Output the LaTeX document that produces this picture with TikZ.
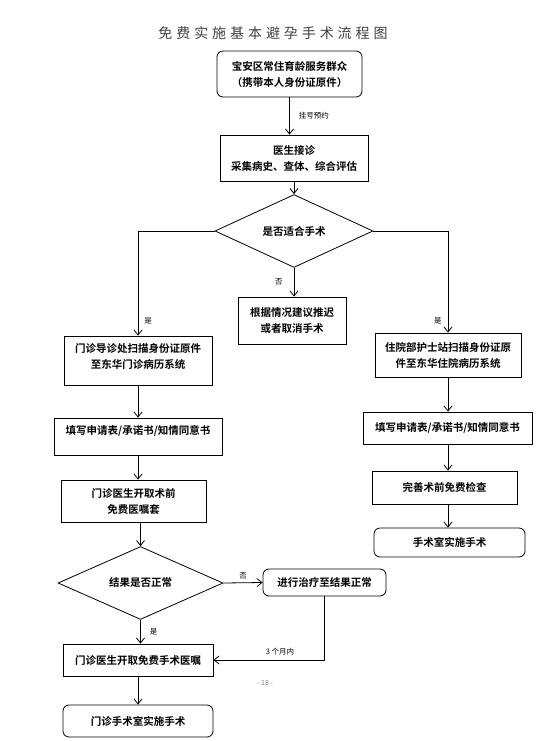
\documentclass[tikz,border=0pt]{standalone}
\usepackage{fontspec}
\setmainfont{Noto Sans CJK SC}[BoldFont={Noto Sans CJK SC Bold}]
\newfontfamily\titlefont[LetterSpace=28]{Noto Sans CJK SC}
\usepackage{xcolor}
\usetikzlibrary{shapes.geometric, arrows.meta}

\begin{document}
\begin{tikzpicture}[
    x=1pt, y=-1pt,
    box/.style={rectangle, draw, line width=0.8pt, align=center, inner sep=2pt, font=\fontsize{10.5}{16}\selectfont\bfseries},
    rbox/.style={box, rounded corners=6pt},
    decision/.style={diamond, draw, line width=0.8pt, inner sep=0pt, font=\fontsize{10.5}{16}\selectfont\bfseries},
    flow/.style={-{Straight Barb[length=5pt,width=8pt]}, line width=0.8pt},
    tag/.style={font=\fontsize{7.5}{9}\selectfont, inner sep=1pt}
]
\useasboundingbox (0,0) rectangle (555,741);

% Title
\node[font=\fontsize{14}{16}\selectfont, text=black!75] (title) at (273,33) {\titlefont 免费实施基本避孕手术流程图};

% Registration and consultation
\node[rbox, minimum width=145, minimum height=46] (start) at (289.5,74) {宝安区常住育龄服务群众\\（携带本人身份证原件）};
\node[box, minimum width=148, minimum height=46] (doctor) at (294,158) {医生接诊\\采集病史、查体、综合评估};
\node[decision, minimum width=158, minimum height=64] (fit) at (294,231) {是否适合手术};

% Three branches
\node[box, minimum width=108, minimum height=47] (delay) at (292,320.5) {根据情况建议推迟\\或者取消手术};
\node[box, minimum width=148, minimum height=49, text depth=9pt] (lscan) at (138,360.5) {门诊导诊处扫描身份证原件\\至东华门诊病历系统};
\node[box, minimum width=146, minimum height=44] (rscan) at (448,355) {住院部护士站扫描身份证原\\件至东华住院病历系统};

% Outpatient column
\node[box, minimum width=168, minimum height=37, text depth=13pt] (lform) at (138,436.5) {填写申请表/承诺书/知情同意书};
\node[box, minimum width=145, minimum height=42] (lorder) at (133.5,501) {门诊医生开取术前\\免费医嘱套};
\node[decision, minimum width=165, minimum height=58] (normal) at (140.5,583) {结果是否正常};
\node[rbox, minimum width=123, minimum height=27] (treat) at (324.5,582.5) {进行治疗至结果正常};
\node[box, minimum width=150, minimum height=32] (lpresc) at (138,660) {门诊医生开取免费手术医嘱};
\node[rbox, minimum width=150, minimum height=32] (lsurg) at (138,721) {门诊手术室实施手术};

% Inpatient column
\node[box, minimum width=169, minimum height=32] (rform) at (447.5,428) {填写申请表/承诺书/知情同意书};
\node[box, minimum width=145, minimum height=33] (rcheck) at (444.5,487.5) {完善术前免费检查};
\node[rbox, minimum width=151, minimum height=29] (rsurg) at (449.5,542.5) {手术室实施手术};

% Page number
\node[font=\fontsize{7}{8}\selectfont, text=black!50] (page) at (265,683) {- 18 -};

% Arrows
\draw[flow] (start.south) -- (start.south |- doctor.north) node[tag, midway, right=8pt] {挂号预约};
\draw[flow] (doctor.south) -- (fit.north);
\draw[flow] (fit.west) -| (lscan.north) node[tag, pos=0.93, right=5pt] {是};
\draw[flow] (fit.east) -| (rscan.north) node[tag, pos=0.94, left=5pt] {是};
\draw[flow] (fit.south) -- (fit.south |- delay.north) node[tag, midway, left=10pt] {否};
\draw[flow] (lscan.south) -- (lform.north);
\draw[flow] (lform.south) -- (lform.south |- lorder.north);
\draw[flow] (normal.north |- lorder.south) -- (normal.north);
\draw[flow] (normal.east) -- (treat.west) node[tag, midway, above=2pt] {否};
\draw[flow] (normal.south) -- (normal.south |- lpresc.north) node[tag, midway, right=8pt] {是};
\draw[flow] (treat.south) |- (lpresc.east) node[tag, pos=0.70, above=3pt] {3 个月内};
\draw[flow] (lpresc.south) -- (lsurg.north);
\draw[flow] (rscan.south) -- (rscan.south |- rform.north);
\draw[flow] (rscan.south |- rform.south) -- (rscan.south |- rcheck.north);
\draw[flow] (rscan.south |- rcheck.south) -- (rscan.south |- rsurg.north);

\end{tikzpicture}
\end{document}
